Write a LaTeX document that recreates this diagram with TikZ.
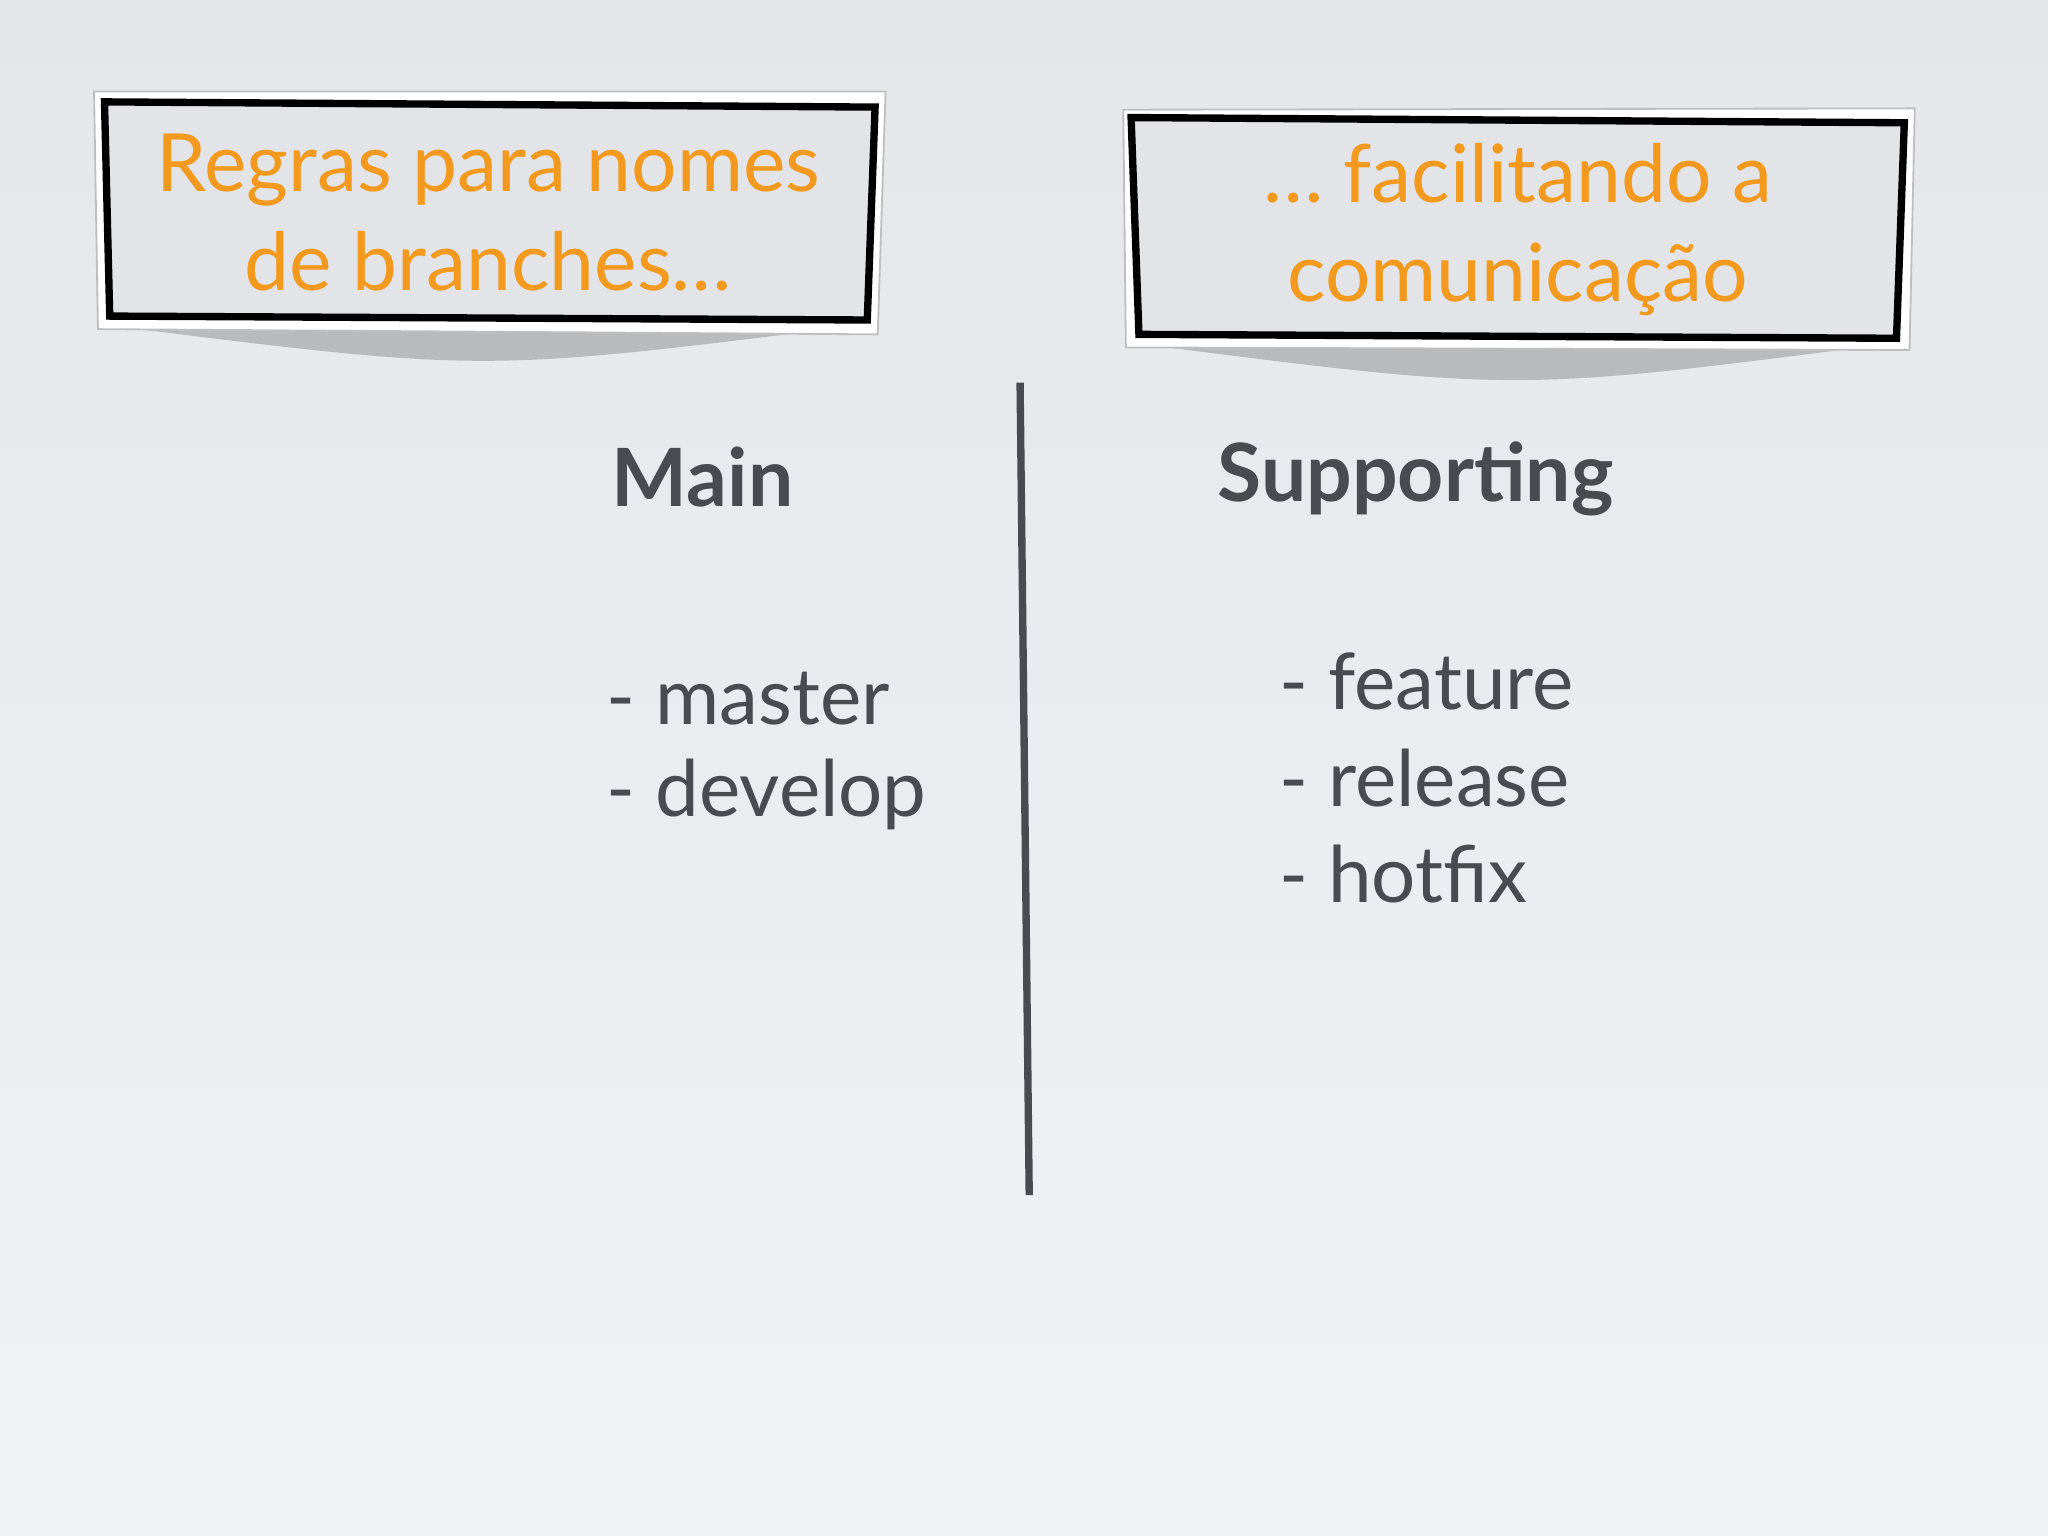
\documentclass[tikz,border=0pt]{standalone}
\usepackage{fontspec}
\setmainfont{Lato}
\definecolor{org}{HTML}{F39A1E}
\definecolor{dk}{HTML}{4A4B50}
\definecolor{boxbg}{HTML}{E2E4E8}
\definecolor{bgtop}{HTML}{E4E6EA}
\definecolor{bgbot}{HTML}{F1F2F4}
\begin{document}
\begin{tikzpicture}[x=0.01cm,y=-0.01cm,
  ttl/.style={text=org,font=\fontsize{17.5pt}{21.5pt}\selectfont,align=center},
  head/.style={text=dk,font=\fontsize{17.5pt}{20pt}\selectfont\bfseries,anchor=west},
  item/.style={text=dk,font=\fontsize{17pt}{21pt}\selectfont,anchor=west,align=left}]
\useasboundingbox (0,0) rectangle (1568,1176);
\shade[top color=bgtop,bottom color=bgbot] (0,0) rectangle (1568,1176);
% left box
\fill[black!45,opacity=0.5] (90,250) .. controls (370,285) .. (650,250) -- (650,240) -- (90,240) -- cycle;
\fill[white,draw=black!25] (72,70) -- (678,70) -- (672,256) -- (75,252) -- cycle;
\fill[boxbg,draw=black,line width=1.6pt] (80,78) -- (670,82) -- (664,245) -- (84,242) -- cycle;
\node[ttl] (t1) at (374,163) {Regras para nomes\\de branches\ldots};
% right box
\fill[black!45,opacity=0.5] (878,264) .. controls (1160,300) .. (1440,264) -- (1440,254) -- (878,254) -- cycle;
\fill[white,draw=black!25] (860,84) -- (1466,83) -- (1462,268) -- (862,266) -- cycle;
\fill[boxbg,draw=black,line width=1.6pt] (866,90) -- (1458,94) -- (1452,259) -- (872,256) -- cycle;
\node[ttl] (t2) at (1162,176) {\ldots\ facilitando a\\comunicação};
% content
\node[head] (main) at (456,365) {Main};
\node[head] (sup) at (920,367) {Supporting};
\node[item] (m1) at (452,535) {- master};
\node[item] (m2) at (452,608) {- develop};
\node[item] (s1) at (967,522) {- feature};
\node[item] (s2) at (967,596) {- release};
\node[item] (s3) at (967,669) {- hotfix};
\coordinate (la) at (781,293);
\coordinate (lb) at (788,915);
\draw[dk,line width=1.6pt] (la) -- (lb);
\end{tikzpicture}
\end{document}
